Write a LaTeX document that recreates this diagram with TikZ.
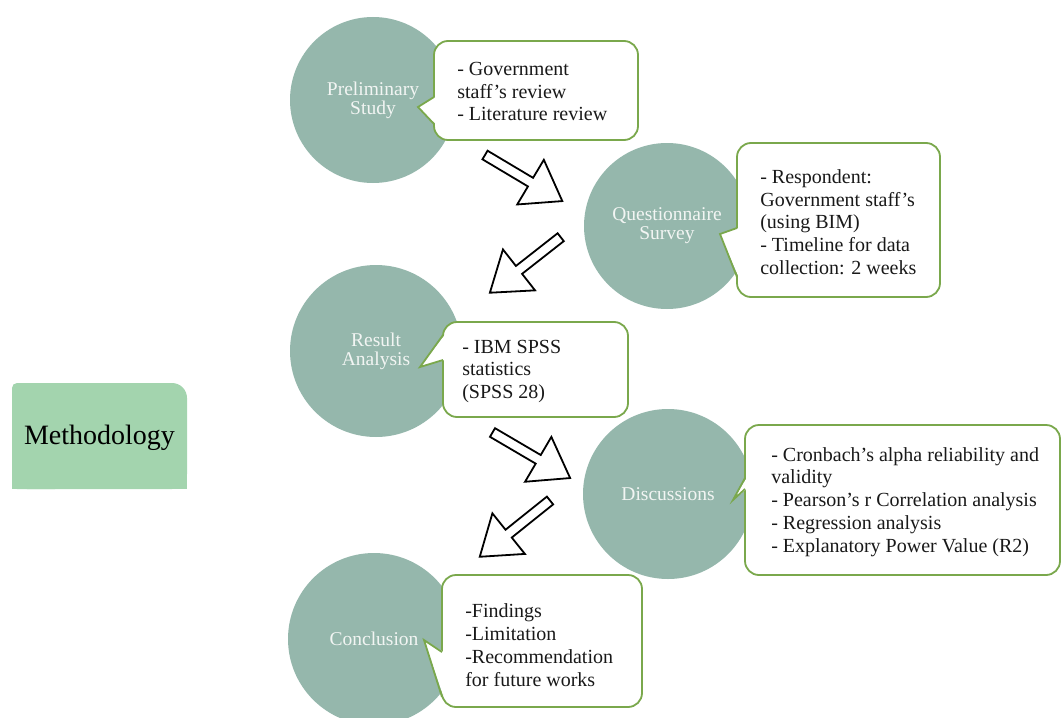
\documentclass[tikz,border=0pt]{standalone}
\usepackage{fontspec}
\setmainfont{Liberation Serif}
\definecolor{circfill}{RGB}{149,183,172}
\definecolor{circtext}{RGB}{242,245,243}
\definecolor{callgreen}{RGB}{122,168,76}
\definecolor{methfill}{RGB}{163,212,174}

% block arrow: tail point, direction angle
\newcommand\flowarrow[2]{%
  \draw[blockarrow, shift={(#1)}, rotate=#2]
    (0,-5) -- (53,-5) -- (53,-26) -- (90,0) -- (53,26) -- (53,5) -- (0,5) -- cycle;}

% speech box: name, left, top, right, bottom, pointer upper y, pointer tip, pointer lower y
\newcommand\speechbox[8]{%
  \node[callbox, minimum width={#4-#2}, minimum height={#5-#3}]
    (#1) at ({(#2+#4)/2},{(#3+#5)/2}) {};
  \coordinate (#1-tip) at (#7);
  \fill[white] (#2+1.6,#6) -- (#1-tip) -- (#2+1.6,#8) -- cycle;
  \draw[callline] (#2,#6) -- (#1-tip) -- (#2,#8);}

\begin{document}
\begin{tikzpicture}[x=1pt,y=-1pt,
  stage/.style={circle, fill=circfill, text=circtext, inner sep=0pt,
    align=center, font=\fontsize{19.5}{19}\selectfont},
  callbox/.style={draw=callgreen, line width=1.8pt, fill=white,
    rounded corners=14pt, inner sep=0pt},
  callline/.style={draw=callgreen, line width=1.8pt, line join=miter},
  calltext/.style={align=left, inner sep=0pt, text=black!90,
    font=\fontsize{20}{22.8}\selectfont},
  blockarrow/.style={draw=black, line width=1.8pt, fill=white, line join=miter}]

\useasboundingbox (0,0) rectangle (1062,717);
\clip (0,0) rectangle (1062,717);

% Methodology tab, rounded at the top only
\fill[methfill, rounded corners=15pt] (12,383) rectangle (187,489);
\fill[methfill] (12,440) rectangle (187,489);
\fill[methfill, rounded corners=5pt] (12,383) rectangle (60,489);
\node[font=\fontsize{28}{30}\selectfont, text=black, inner sep=0pt] (meth) at (99.5,438) {Methodology};

% stages
\node[stage, minimum size=166pt] (prelim) at (373,100) {Preliminary\\Study};
\node[stage, minimum size=166pt] (survey) at (667,226) {Questionnaire\\Survey};
\node[stage, minimum size=172pt] (result) at (376,351) {Result\\Analysis};
\node[stage, minimum size=170pt] (discuss) at (668,494) {Discussions};
\node[stage, minimum size=172pt] (concl) at (374,639) {Conclusion};

% speech boxes
\speechbox{b1}{434}{41}{638}{140}{97}{418,107}{124}
\node[calltext, anchor=west] (t1) at ([xshift=24pt,yshift=-1pt]b1.west)
  {- Government\\staff’s review\\- Literature review};

\speechbox{b2}{737}{143}{940}{297}{228}{720,234}{277}
\node[calltext, anchor=west] (t2) at ([xshift=24pt,yshift=-2pt]b2.west)
  {- Respondent:\\Government staff’s\\(using BIM)\\- Timeline for data\\collection: 2 weeks};

\speechbox{b3}{443}{322}{628}{417}{335}{420,367}{360}
\node[calltext, anchor=west] (t3) at ([xshift=20pt,yshift=-2pt]b3.west)
  {- IBM SPSS\\statistics\\(SPSS 28)};

\speechbox{b4}{745}{425}{1060}{575}{478}{733,500}{489}
\node[calltext, anchor=west] (t4) at ([xshift=27pt,yshift=-2pt]b4.west)
  {- Cronbach’s alpha reliability and\\validity\\- Pearson’s r Correlation analysis\\- Regression analysis\\- Explanatory Power Value (R2)};

\speechbox{b5}{442}{575}{642}{707}{652}{424,640}{697}
\node[calltext, anchor=west] (t5) at ([xshift=24pt,yshift=-4pt]b5.west)
  {-Findings\\-Limitation\\-Recommendation\\for future works};

% flow arrows between stages
\flowarrow{485,155}{-30.8}
\flowarrow{560.7,237.2}{218.1}
\flowarrow{492.5,432.5}{-30.4}
\flowarrow{550,500.5}{218.7}

\end{tikzpicture}
\end{document}
